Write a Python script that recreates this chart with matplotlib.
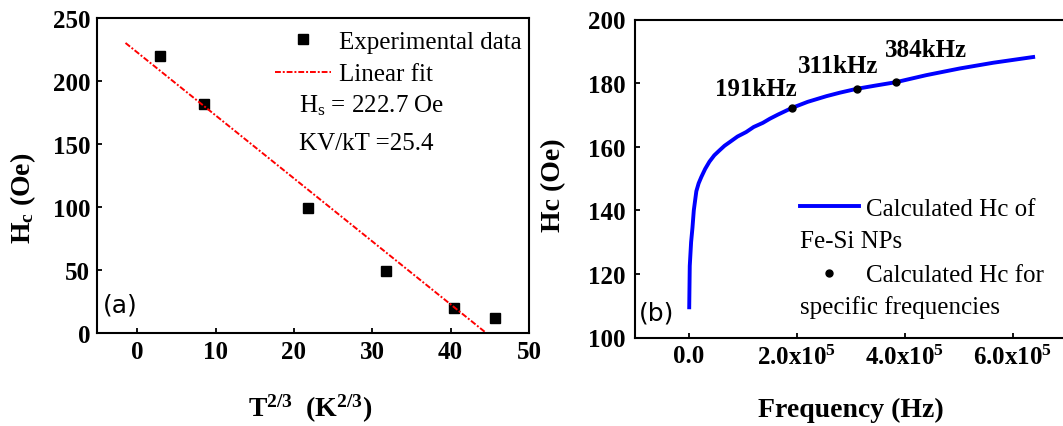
import matplotlib
matplotlib.use("Agg")
import matplotlib.pyplot as plt

plt.rcParams["font.family"] = ["Liberation Serif", "DejaVu Serif"]
plt.rcParams["mathtext.fontset"] = "custom"
plt.rcParams["mathtext.rm"] = "Liberation Serif"
plt.rcParams["mathtext.it"] = "Liberation Serif:italic"
plt.rcParams["mathtext.bf"] = "Liberation Serif:bold"

# (a) coercivity vs T^(2/3)
t23 = [2.9, 8.5, 21.8, 31.8, 40.4, 45.6]
hc_exp = [220, 181.5, 99, 49, 20, 11.7]
hs = 222.7          # intercept of the linear fit (Oe)
fit_slope = -5.0    # Oe per K^(2/3)
fit_x = [-1.5, 44.5]
kv_kt = 25.4

# (b) calculated Hc vs frequency
freq = [0.5e3, 1.5e3, 4e3, 6.5e3, 9e3, 13.7e3, 18e3, 23e3, 30e3, 38e3, 47e3,
        57e3, 66e3, 76e3, 90e3, 106e3, 120e3, 137e3, 150e3, 165e3, 191e3,
        220e3, 255e3, 280e3, 311e3, 345e3, 384e3, 440e3, 502e3, 564e3, 638e3]
hc_calc = [109.5, 122.5, 130, 134.5, 140, 146, 148.5, 150.5, 153, 155.3, 157.3,
           158.9, 160.3, 161.5, 163.2, 164.6, 166.2, 167.5, 168.8, 170.1, 172.2,
           174.1, 175.9, 177, 178.2, 179.2, 180.3, 182.5, 184.6, 186.4, 188.2]
spec_freq = [191e3, 311e3, 384e3]
spec_hc = [172.2, 178.2, 180.2]
spec_labels = ["191kHz", "311kHz", "384kHz"]

W, H = 1063, 427
fig = plt.figure(figsize=(W / 100, H / 100), dpi=100)

def px_axes(x0, y0, x1, y1):
    return fig.add_axes([x0 / W, 1 - y1 / H, (x1 - x0) / W, (y1 - y0) / H])

ax1 = px_axes(97.3, 19, 529, 334)
ax2 = px_axes(635, 20.5, 1066.6, 338.5)

for ax in (ax1, ax2):
    for s in ax.spines.values():
        s.set_linewidth(1.5)
    ax.tick_params(direction="in", length=3.5, width=1.3, top=False, right=False,
                   labelsize=18, pad=5)

# ---- panel (a)
ax1.plot(t23, hc_exp, "s", color="black", ms=6.5, linestyle="none",
         label="Experimental data")
fit_y = [hs + fit_slope * x for x in fit_x]
ax1.plot(fit_x, fit_y, color="red", lw=1.4, linestyle=(0, (3, 1, 1, 1)),
         label="Linear fit")
ax1.set_xlim(-5.1, 50)
ax1.set_ylim(0, 250)
ax1.set_xticks([0, 10, 20, 30, 40, 50])
ax1.set_yticks([0, 50, 100, 150, 200, 250])
for lab in ax1.get_xticklabels() + ax1.get_yticklabels():
    lab.set_fontweight("bold")
ax1.set_xlabel(r"$\mathbf{T^{2/3}\ \ (K^{2/3})}$", fontsize=20)
ax1.set_ylabel(r"$\mathbf{H_c}$ (Oe)", fontsize=20, fontweight="bold")
ax1.xaxis.set_label_coords(0.4927, -0.187)
ax1.yaxis.set_label_coords(-0.137, 0.432)

ax1.legend(loc="upper left", bbox_to_anchor=((274.8 - 97.3) / 431.7, 0.96),
           frameon=False, fontsize=18, handlelength=2.23, handletextpad=0.34,
           borderpad=0, borderaxespad=0, labelspacing=0.39)
ax1.text((299.3 - 97.3) / 431.7, (334 - 112.7) / 315,
         r"H$_\mathrm{s}$ = %.1f Oe" % hs, transform=ax1.transAxes,
         fontsize=18, va="baseline")
ax1.text((299.3 - 97.3) / 431.7, (334 - 150) / 315, "KV/kT =%.1f" % kv_kt,
         transform=ax1.transAxes, fontsize=18, va="baseline")
ax1.text(0.012, 0.089, "(a)", transform=ax1.transAxes, fontsize=18,
         family="DejaVu Sans", va="center")

# ---- panel (b)
ax2.plot(freq, hc_calc, color="#0000ff", lw=2.8, label="Calculated Hc of")
ax2.plot(spec_freq, spec_hc, "o", color="black", ms=5, linestyle="none",
         label="Calculated Hc for")
offsets = [(-26.4, 13.9), (-13.2, 16.7), (21.6, 23.5)]
for f, h, txt, off in zip(spec_freq, spec_hc, spec_labels, offsets):
    ax2.annotate(txt, (f, h), xytext=off, textcoords="offset points",
                 ha="center", va="center", fontsize=18, fontweight="bold")
ax2.set_xlim(-1e5, 7e5)
ax2.set_ylim(100, 200)
ax2.set_xticks([0, 2e5, 4e5, 6e5])
ax2.set_xticklabels(["0.0", r"$\mathbf{2.0x10^5}$", r"$\mathbf{4.0x10^5}$",
                     r"$\mathbf{6.0x10^5}$"])
ax2.set_yticks([100, 120, 140, 160, 180, 200])
for lab in ax2.get_xticklabels() + ax2.get_yticklabels():
    lab.set_fontweight("bold")
ax2.tick_params(axis="y", pad=7)
ax2.set_xlabel("Frequency (Hz)", fontsize=20, fontweight="bold")
ax2.set_ylabel("Hc (Oe)", fontsize=20, fontweight="bold")
ax2.xaxis.set_label_coords(0.5005, -0.187)
ax2.yaxis.set_label_coords(-0.16, 0.483)

ax2.legend(loc="upper left", bbox_to_anchor=((800 - 635) / 431.6, 0.441),
           frameon=False, fontsize=18, handlelength=2.35, handletextpad=0.3,
           borderpad=0, borderaxespad=0, labelspacing=1.76)
ax2.text((800 - 635) / 431.6, (338.5 - 248) / 318, "Fe-Si NPs",
         transform=ax2.transAxes, fontsize=18, va="baseline")
ax2.text((800 - 635) / 431.6, (338.5 - 314) / 318, "specific frequencies",
         transform=ax2.transAxes, fontsize=18, va="baseline")
ax2.text(0.0088, 0.080, "(b)", transform=ax2.transAxes, fontsize=18,
         family="DejaVu Sans", va="center")

fig.savefig("out.png", dpi=100)
